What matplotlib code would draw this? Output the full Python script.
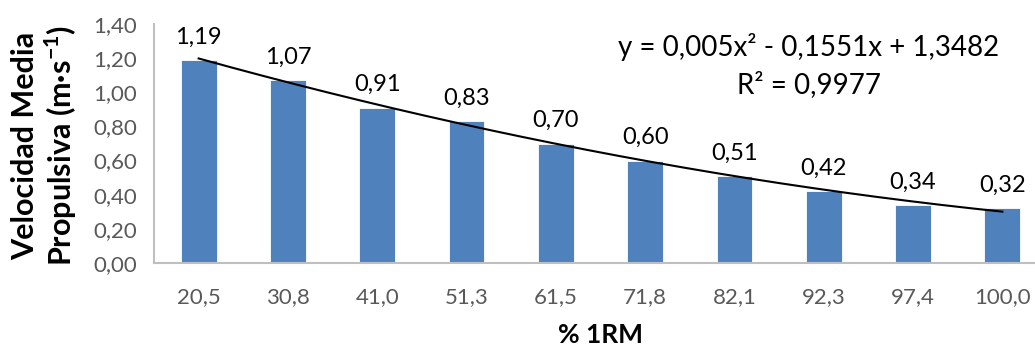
import matplotlib

matplotlib.use('Agg')

import matplotlib.pyplot as plt
import numpy as np

categories = ['20,5', '30,8', '41,0', '51,3', '61,5', '71,8', '82,1', '92,3', '97,4', '100,0']
velocity = [1.19, 1.07, 0.91, 0.83, 0.70, 0.60, 0.51, 0.42, 0.34, 0.32]
y_ticks = [0.0, 0.2, 0.4, 0.6, 0.8, 1.0, 1.2, 1.4]
equation_text = 'y = 0,005x² - 0,1551x + 1,3482'
r2_text = 'R² = 0,9977'

BAR_COLOR = '#4F81BD'
AXIS_COLOR = '#BFBFBF'
TICK_COLOR = '#595959'

plt.rcParams['font.family'] = ['Lato', 'DejaVu Sans']
plt.rcParams['mathtext.fontset'] = 'custom'
plt.rcParams['mathtext.rm'] = 'Lato'
plt.rcParams['mathtext.bf'] = 'Lato:bold'

fig = plt.figure(figsize=(10.35, 3.47), dpi=100)
# axes runs slightly past the right edge, like the cropped original
ax = fig.add_axes([154 / 1035, 84 / 347, 893 / 1035, 239 / 347])

x = np.arange(len(categories))
ax.bar(x, velocity, width=0.40, color=BAR_COLOR, edgecolor='white', linewidth=0.6, zorder=2)

# polynomial trend line (order 2), x measured as category position 1..n
coef = np.polyfit(x + 1, velocity, 2)
xs = np.linspace(0, len(categories) - 1, 200)
ax.plot(xs, np.polyval(coef, xs + 1), color='black', lw=1.5, zorder=3)

for xi, v in zip(x, velocity):
    ax.annotate(f'{v:.2f}'.replace('.', ','), (xi, v), xytext=(0, 9),
                textcoords='offset points', ha='center', va='bottom',
                fontsize=17, color='black')

ax.set_xlim(-0.5, len(categories) - 0.5)
ax.set_ylim(0, 1.4)
ax.set_yticks(y_ticks)
ax.set_yticklabels([f'{t:.2f}'.replace('.', ',') for t in y_ticks])
ax.set_xticks(x)
ax.set_xticklabels(categories)
ax.tick_params(axis='both', length=0, labelsize=16, colors=TICK_COLOR)
ax.tick_params(axis='x', pad=17)
ax.tick_params(axis='y', pad=12)

for side in ['top', 'right']:
    ax.spines[side].set_visible(False)
for side in ['left', 'bottom']:
    ax.spines[side].set_color(AXIS_COLOR)
    ax.spines[side].set_linewidth(1.5)

fig.text(809 / 1035, 1 - 47 / 347, equation_text, ha='center', va='center', fontsize=20)
fig.text(809 / 1035, 1 - 85 / 347, r2_text, ha='center', va='center', fontsize=20)

fig.text(45 / 1035, 1 - 146 / 347, 'Velocidad Media\nPropulsiva (m·s$^{\\mathbf{-1}}$)',
         rotation=90, ha='center', va='center', multialignment='center',
         fontsize=22, fontweight='bold', linespacing=1.12)
fig.text(601 / 1035, 1 - 335 / 347, '% 1RM', ha='center', va='center',
         fontsize=19, fontweight='bold')

fig.savefig('out.png', dpi=100)
